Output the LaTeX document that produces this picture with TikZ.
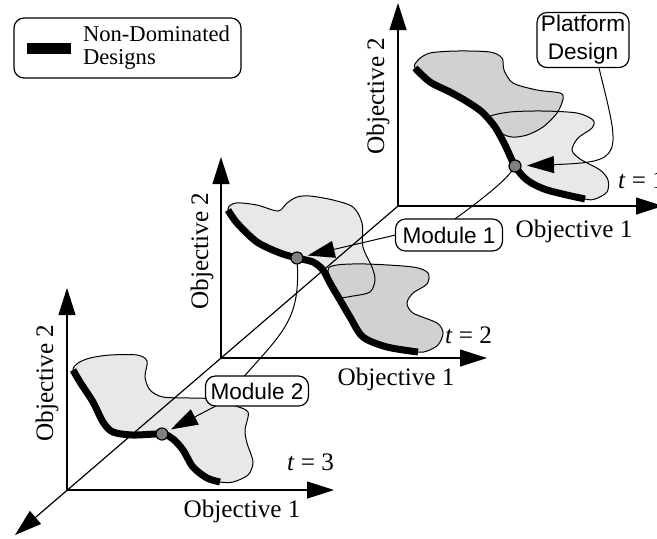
\documentclass[tikz,border=0pt]{standalone}
\usepackage{fontspec}
\setmainfont{Liberation Serif}
\setsansfont{Liberation Sans}
\usetikzlibrary{arrows.meta}
\definecolor{blobpale}{gray}{0.91}
\definecolor{blobdark}{gray}{0.82}
% design regions, one per time step (pixel units)
\newcommand\pathLa{plot[smooth cycle] coordinates {(489,117) (510,112) (543,111) (577,113) (593,120) (592,128) (578,138) (572,150) (580,159) (600,170) (608,180) (607,192) (595,199) (585,199) (547,190) (527,180) (515,166) (505,145) (495,127)}}
\newcommand\pathDa{plot[smooth cycle] coordinates {(415,68) (418,60) (430,53) (457,51) (490,52) (502,58) (504,70) (513,83) (537,90) (560,93) (563,99) (557,113) (543,127) (527,135) (512,137) (500,132) (482,112) (466,101) (450,92) (430,82)}}
\newcommand\pathLb{plot[smooth cycle] coordinates {(228,209) (236,203) (257,205) (278,211) (287,203) (297,197) (310,196) (333,200) (353,207) (362,223) (363,247) (372,267) (375,280) (370,292) (353,296) (338,297) (330,283) (323,270) (313,262) (297,258) (280,253) (257,242) (237,223)}}
\newcommand\pathDb{plot[smooth cycle] coordinates {(328,271) (337,265) (367,264) (413,267) (428,273) (427,284) (413,293) (407,303) (413,313) (437,323) (443,333) (438,345) (427,351) (418,352) (387,347) (363,337) (350,317) (340,300)}}
\newcommand\pathLc{plot[smooth cycle] coordinates {(73,370) (78,363) (90,358) (110,355) (137,355) (147,361) (145,377) (150,390) (163,397) (190,398) (217,399) (233,405) (248,412) (245,430) (247,443) (253,462) (248,475) (233,482) (220,482) (207,478) (193,467) (183,450) (173,439) (162,434) (133,435) (113,432) (103,422) (93,402) (80,382)}}
\begin{document}
\begin{tikzpicture}[x=0.5pt,y=-0.5pt,inner sep=0pt,outer sep=0pt,
  >={Triangle[length=13.5pt,width=8.5pt]},
  axis/.style={->,line width=0.6pt},
  front/.style={line width=3.5pt},
  edge/.style={line width=0.5pt},
  ptr/.style={->,line width=0.5pt},
  dot/.style={draw,circle,fill=gray,minimum size=6pt,line width=0.6pt},
  callout/.style={draw,rectangle,rounded corners=5pt,fill=white,line width=0.6pt,align=center,
    font=\sffamily\fontsize{11.3pt}{14pt}\selectfont},
  lbl/.style={font=\fontsize{12.6pt}{15pt}\selectfont}]
\useasboundingbox (0,0) rectangle (657,538);

% legend
\node[callout,minimum width=113.5pt,minimum height=30pt] (lg) at (127.5,48) {};
\draw[line width=5.5pt] ([xshift=6.5pt]lg.west) -- ++(44,0);
\node[anchor=west,align=left,font=\fontsize{11.3pt}{11.5pt}\selectfont] (lgtxt) at ([xshift=34.5pt]lg.west) {Non-Dominated\\Designs};

% regions
\fill[blobpale] \pathLa;
\fill[blobdark] \pathDa;
\fill[blobpale] \pathLb;
\fill[blobdark] \pathDb;
\fill[blobpale] \pathLc;
\draw[edge] \pathLa; \draw[edge] \pathDa;
\draw[edge] \pathLb; \draw[edge] \pathDb;
\draw[edge] \pathLc;

% axes
\coordinate (o1) at (398,206);
\coordinate (o2) at (221,358);
\coordinate (o3) at (67,490);
\coordinate (tz) at (15,535);
\draw[axis] (o1) -- (398,3);
\draw[axis] (o1) -- (663,206);
\draw[axis] (o2) -- (221,157);
\draw[axis] (o2) -- (487,358);
\draw[axis] (o3) -- (67,288);
\draw[axis] (o3) -- (334,490);
\draw[axis] (o1) -- (tz);

% non-dominated fronts
\draw[front] plot[smooth] coordinates {(415,68) (430,82) (450,92) (466,101) (482,112) (495,127) (505,145) (515,166) (527,180) (547,190) (585,199)};
\draw[front] plot[smooth] coordinates {(228,210) (237,223) (257,242) (280,253) (297,258) (313,262) (323,270) (330,283) (340,300) (350,317) (363,337) (387,347) (418,352)};
\draw[front] plot[smooth] coordinates {(73,370) (80,382) (93,402) (103,422) (113,432) (133,435) (162,434) (173,439) (183,450) (193,467) (207,478) (220,482)};

\node[dot] (d1) at (515,166) {};
\node[dot] (d2) at (297,258) {};
\node[dot] (d3) at (162,434) {};

\node[callout,minimum width=46pt,minimum height=27.5pt] (pd) at (583,40) {Platform\\Design};
\node[callout,minimum width=53.5pt,minimum height=16pt] (m1) at (449,235) {Module 1};
\node[callout,minimum width=51.5pt,minimum height=15pt] (m2) at (257,391) {Module 2};

\draw[edge] (d1) .. controls +(-10,15) and +(25,-18) .. (m1.70);
\draw[edge] (d2) .. controls +(3,60) and +(40,-45) .. (m2.130);
\draw[ptr,shorten >=3pt] (pd.300) .. controls +(22,90) and +(110,-4) .. (d1);
\draw[ptr,shorten >=2.5pt] (m1.180) -- (d2);
\draw[ptr,shorten >=2pt] (m2.200) -- (d3);

% labels
\node[lbl,rotate=90] (oy1) at (378,96) {Objective 2};
\node[lbl,rotate=90] (oy2) at (202,251) {Objective 2};
\node[lbl,rotate=90] (oy3) at (47,383) {Objective 2};
\node[lbl,anchor=base] (ox1) at (574,237) {Objective 1};
\node[lbl,anchor=base] (ox2) at (396,385) {Objective 1};
\node[lbl,anchor=base] (ox3) at (242,517) {Objective 1};
\node[lbl,anchor=west] (t1) at (618,180) {\textit{t} = 1};
\node[lbl,anchor=west] (t2) at (445,335) {\textit{t} = 2};
\node[lbl,anchor=west] (t3) at (287,462) {\textit{t} = 3};
\end{tikzpicture}
\end{document}
